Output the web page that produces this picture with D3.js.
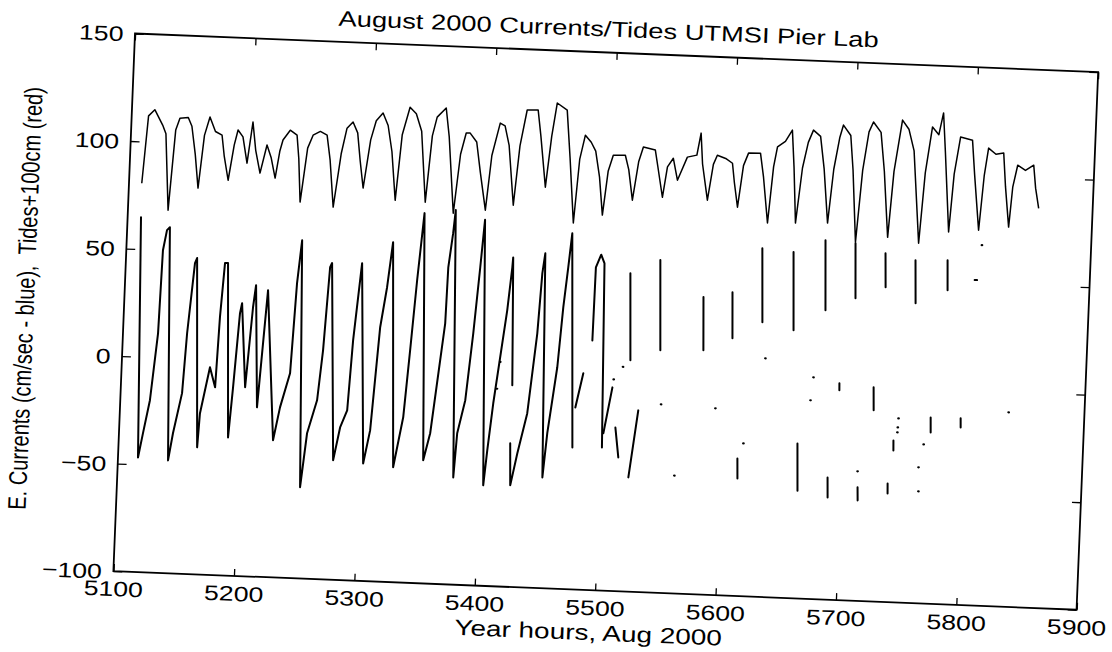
<!DOCTYPE html>
<html>
<head>
<meta charset="utf-8">
<script src="https://cdn.jsdelivr.net/npm/d3@7"></script>
<style>
html, body { margin: 0; padding: 0; background: #fff; }
svg { display: block; }
text { font-family: "Liberation Sans", Arial, Helvetica, sans-serif; fill: #000; }
</style>
</head>
<body>
<svg id="chart"></svg>
<script>
/*
 values
*/
var xTicks = [5100, 5200, 5300, 5400, 5500, 5600, 5700, 5800, 5900];
var yTicks = [-100, -50, 0, 50, 100, 150];
var titleText = 'August 2000 Currents/Tides UTMSI Pier Lab';
var xLabel = 'Year hours, Aug 2000';
var yLabel = 'E. Currents (cm/sec - blue),  Tides+100cm (red)';

// tides + 100 cm : [year hour, cm]
var tides = [
	[5110.6, 80.6], [5114, 112], [5119, 115], [5126, 108], [5129, 104], [5133.3, 68.6],
	[5137, 106], [5140.1, 111.5], [5147, 112], [5150.3, 108], [5154, 95], [5157.4, 79.4],
	[5161, 104], [5165, 112.6], [5170, 106], [5175.6, 104.4], [5178, 95], [5182.1, 83.6],
	[5186, 100], [5188.7, 107.1], [5193, 104], [5197.2, 91.9], [5200.8, 111.1], [5204, 98],
	[5208.3, 87.5], [5213.2, 100.7], [5217, 95], [5221, 85.5], [5224, 98], [5226.3, 103.3],
	[5232, 108], [5237.8, 105.8], [5240, 95], [5242.5, 74.8], [5247, 100], [5251.1, 106.1],
	[5257, 108], [5262.7, 106.4], [5266, 95], [5270.1, 73.1], [5275, 98], [5279, 110],
	[5283.8, 113], [5288, 108], [5291, 95], [5294.3, 82.5], [5299, 105], [5303, 114],
	[5308.4, 117.7], [5313, 112], [5317, 100], [5321.3, 77.4], [5325, 108], [5330.6, 120.9],
	[5336, 118], [5341, 110], [5346.3, 77.1], [5350, 108], [5353.4, 116.8], [5360.6, 121.2],
	[5364, 108], [5369.9, 72.5], [5374, 100], [5378, 110], [5381.3, 110], [5387, 106],
	[5391, 92], [5396.4, 74.5], [5400, 100], [5405.9, 115.2], [5410, 114], [5414, 105],
	[5419.4, 77.3], [5423, 105], [5427.8, 121.8], [5436.9, 122], [5440, 110], [5445.4, 86.3],
	[5449, 110], [5452.5, 125.6], [5461, 122.5], [5465, 100], [5469.8, 70.2], [5473, 100],
	[5476.9, 111.2], [5482, 108], [5486, 104], [5490, 92], [5493.6, 74.4], [5497, 95],
	[5500.7, 102.4], [5510.7, 102.6], [5514, 96], [5518, 81.9], [5522, 100], [5525.4, 106.8],
	[5535.4, 105.6], [5538, 98], [5542.8, 83.8], [5546, 98], [5550.6, 102.1], [5554.7, 92],
	[5562.2, 102.9], [5570, 104], [5572.8, 114.3], [5575, 100], [5580.2, 83.3], [5584, 100],
	[5587, 104.3], [5594, 103], [5599.8, 100.9], [5602, 92], [5605.4, 80.6], [5609, 100],
	[5612.8, 105.9], [5622.7, 106.1], [5626, 95], [5630.8, 73.8], [5634, 100], [5636.6, 109.3],
	[5643, 112], [5648.4, 117.4], [5651, 100], [5654, 74.3], [5658, 100], [5662, 112],
	[5665.9, 117.8], [5672, 115], [5676, 100], [5680.6, 74.9], [5684, 100], [5688, 115],
	[5690.6, 120.7], [5697, 116], [5700, 100], [5704.4, 66.5], [5708, 100], [5712, 118],
	[5715.4, 122.7], [5722, 118], [5726, 100], [5730.9, 69.4], [5734, 100], [5739.4, 124.1],
	[5745, 120], [5750, 110], [5756.8, 67.2], [5760, 100], [5764.5, 121.5], [5770, 118],
	[5773.2, 128.2], [5776, 110], [5781.3, 73], [5784, 100], [5788.1, 117.3], [5798.1, 116.1],
	[5801, 100], [5806.1, 74.4], [5809, 100], [5811.7, 112.7], [5818, 110], [5824.4, 110.7],
	[5827, 95], [5830.9, 76.4], [5833, 95], [5836.4, 105.3], [5843, 103], [5849.7, 105.6],
	[5852, 95], [5855.2, 85.7]
];

// east currents, one list per piece between gaps : [year hour, cm/s]
var currents = [
	[[5111.1, 64.8], [5116.6, -46.8], [5119.9, -35.5], [5124.6, -20], [5129.1, 11.2], [5130.4, 49.9],
	 [5133.1, 59.3], [5135.4, 60.7], [5141.6, -47.6], [5144.8, -34.9], [5151, -16.1], [5153.2, 11.8],
	 [5157.4, 44.5], [5159, 46.9], [5165.3, -41], [5166.5, -25.2], [5173.3, -3.6], [5178.2, -12.8],
	 [5179.9, 19.9], [5182.3, 45.1], [5184.8, 45.2], [5190.6, -35.8], [5193.1, -12.5], [5196.4, 22.1],
	 [5197.8, 26.8], [5203.1, -12.2], [5207, 25.1], [5208.8, 35.4], [5213.6, -21.3], [5218.9, 33.3],
	 [5228, -36.3], [5232.7, -20.9], [5239.9, -4.9], [5242.7, 37.1], [5245.5, 57.1], [5252, -57.6],
	 [5256, -32.4], [5263.2, -16.9], [5266.5, 6.4], [5269.6, 45.1], [5271.1, 47.1], [5278.5, -44.5],
	 [5283.2, -29.1], [5288.5, -21], [5291.1, 11.7], [5296, 47.6], [5303.5, -45.4], [5308.2, -29.9],
	 [5313.1, 18.2], [5317.5, 36.9], [5321, 57.9], [5328.5, -46.6], [5335.2, -23.2], [5338.7, 8],
	 [5342.2, 40.8], [5346.1, 72], [5353.2, -42.8], [5358.1, -30.1], [5366.9, 21.2], [5367.6, 47.3],
	 [5370.5, 63.2], [5371.9, 74], [5378.7, -50.2], [5380.5, -29.6], [5386.1, -14.1], [5390.5, 17.1],
	 [5394.1, 47.9], [5396.5, 70], [5403.8, -53.3], [5406, -37], [5409.4, -15], [5417.9, 28.4],
	 [5420.7, 48.5], [5421.1, 53.1], [5424.6, -6.3]],
	[[5424.8, -33.3], [5426.2, -52.8], [5431, -37.9], [5437.9, -19.1], [5443.6, 18.3], [5445.8, 46.3],
	 [5447.6, 55.6], [5452.6, -48.5], [5455.2, -27.9], [5461.3, 2.9], [5464.3, 30.9], [5467.1, 49.6],
	 [5469.3, 65.4], [5476.5, -34.1]],
	[[5477.6, -15.4], [5483.1, 0.6]],
	[[5489.5, 16], [5490, 50], [5494, 56], [5497, 52], [5501, -33.5]],
	[[5501.7, -26.9], [5507.7, -5.4]],
	[[5511.5, -24], [5514.9, -37.8]],
	[[5518.8, 47.9], [5521.7, 7.5]],
	[[5523.9, -46.9], [5529.9, -15.6]],
	[[5543.2, 54.6], [5546.2, 12.7]],
	[[5580.2, 38.2], [5581.9, 13.5]],
	[[5604.1, 41], [5605.6, 19.6]],
	[[5627.4, 62], [5629.9, 27.6]],
	[[5653.4, 60.8], [5656, 24.5]],
	[[5679.5, 66.9], [5681.8, 34.4]],
	[[5704.5, 66], [5706.3, 40.5]],
	[[5729.7, 62], [5730.9, 46.2]],
	[[5754.8, 59.3], [5756.3, 39.3]],
	[[5781.4, 59.9], [5782.4, 45.9]],
	[[5613.7, -36.1], [5614.4, -45.4]],
	[[5663, -28], [5664.6, -49.9]],
	[[5689.1, -43.2], [5689.8, -52.5]],
	[[5714.3, -47.2], [5714.8, -53.3]],
	[[5739.1, -44.9], [5739.4, -49.5]],
	[[5695.8, 0.7], [5696, -2.5]],
	[[5724.3, -0.5], [5725.1, -11.2]],
	[[5742.5, -24.8], [5742.8, -29.5]],
	[[5772.6, -13.4], [5773.1, -20.4]],
	[[5797.5, -13.3], [5797.8, -17.5]],
	[[5804.5, 51.2], [5806.5, 51.2]]
];

// single current samples
var currentDots = [
	[5633.6, 10.9], [5674.1, 3], [5672.4, -7.7], [5593.8, -13.2], [5618.2, -29], [5713.8, -39.8],
	[5764.2, -36.8], [5764.9, -48], [5746, -14.5], [5745.7, -18.7], [5745.5, -21], [5767.7, -26.1],
	[5837.1, -9.6], [5413.8, 4.3], [5412, -8.2], [5515.8, 4.3], [5508.5, -1.7], [5548.6, -12.4],
	[5562, -45.2], [5809.4, 67.5]
];

/*
 page and axes box
 the scan is a bit tilted and stretched sideways, so the box is drawn
 unstretched and the group takes care of the rest
*/
var svgWidth = 1112;
var svgHeight = 652;
var width = 759;
var height = 538;
var fontSize = 21;

var svg = d3.select('#chart')
	.attr('width', svgWidth)
	.attr('height', svgHeight);

svg.append('rect').attr('width', svgWidth).attr('height', svgHeight).attr('fill', '#fff');

var g = svg.append('g')
	.attr('transform', 'translate(135,33.5) rotate(2.3) scale(1.27,1)');

var x = d3.scaleLinear().domain([5100, 5900]).range([0, width]);
var y = d3.scaleLinear().domain([-100, 150]).range([height, 0]);

function tidy(a) {
	a.attr('font-size', null).attr('font-family', null).attr('color', '#000');
	a.select('.domain').remove();
	a.selectAll('line')
		.attr('stroke-width', 1.3)
		.attr('vector-effect', 'non-scaling-stroke');
}

// bottom axis
g.append('g')
	.attr('transform', 'translate(0,' + height + ')')
	.call(d3.axisBottom(x).tickValues(xTicks).tickSizeInner(-7).tickSizeOuter(0).tickFormat(d3.format('d')))
	.call(tidy)
	.call(a => a.selectAll('text').attr('y', 25).attr('dy', null).attr('font-size', fontSize));

// left axis
g.append('g')
	.call(d3.axisLeft(y).tickValues(yTicks).tickSizeInner(-7).tickSizeOuter(0))
	.call(tidy)
	.call(a => a.selectAll('text').attr('x', -9).attr('dy', '0.36em').attr('font-size', fontSize));

// top and right ticks, no labels
g.append('g')
	.call(d3.axisTop(x).tickValues(xTicks).tickSizeInner(-7).tickSizeOuter(0).tickFormat(''))
	.call(tidy);

g.append('g')
	.attr('transform', 'translate(' + width + ',0)')
	.call(d3.axisRight(y).tickValues(yTicks).tickSizeInner(-7).tickSizeOuter(0).tickFormat(''))
	.call(tidy);

// box
g.append('rect')
	.attr('x', x(5100)).attr('y', y(150))
	.attr('width', x(5900) - x(5100)).attr('height', y(-100) - y(150))
	.attr('fill', 'none')
	.attr('stroke', '#000')
	.attr('stroke-width', 1.8)
	.attr('vector-effect', 'non-scaling-stroke');

// titles
g.append('text')
	.attr('x', width / 2 - 7).attr('y', -16)
	.attr('text-anchor', 'middle')
	.attr('font-size', 21.5)
	.text(titleText);

g.append('text')
	.attr('x', width / 2 - 4).attr('y', height + 50)
	.attr('text-anchor', 'middle')
	.attr('font-size', 22)
	.text(xLabel);

g.append('text')
	.attr('transform', 'translate(-71,' + (height / 2) + ') rotate(-90)')
	.attr('text-anchor', 'middle')
	.attr('font-size', 20)
	.attr('xml:space', 'preserve')
	.text(yLabel);

/*
 data lines
*/
var line = d3.line()
	.x(function(d) { return x(d[0]); })
	.y(function(d) { return y(d[1]); });

g.append('path')
	.datum(tides)
	.attr('fill', 'none')
	.attr('stroke', '#000')
	.attr('stroke-width', 1.5)
	.attr('stroke-linejoin', 'round')
	.attr('vector-effect', 'non-scaling-stroke')
	.attr('d', line);

g.append('g')
	.attr('fill', 'none')
	.attr('stroke', '#000')
	.attr('stroke-width', 2)
	.attr('stroke-linejoin', 'round')
	.attr('stroke-linecap', 'round')
	.selectAll('path')
	.data(currents)
	.enter().append('path')
	.attr('vector-effect', 'non-scaling-stroke')
	.attr('d', line);

g.append('g')
	.selectAll('circle')
	.data(currentDots)
	.enter().append('circle')
	.attr('cx', function(d) { return x(d[0]); })
	.attr('cy', function(d) { return y(d[1]); })
	.attr('r', 1.1)
	.attr('fill', '#000');
</script>
</body>
</html>
